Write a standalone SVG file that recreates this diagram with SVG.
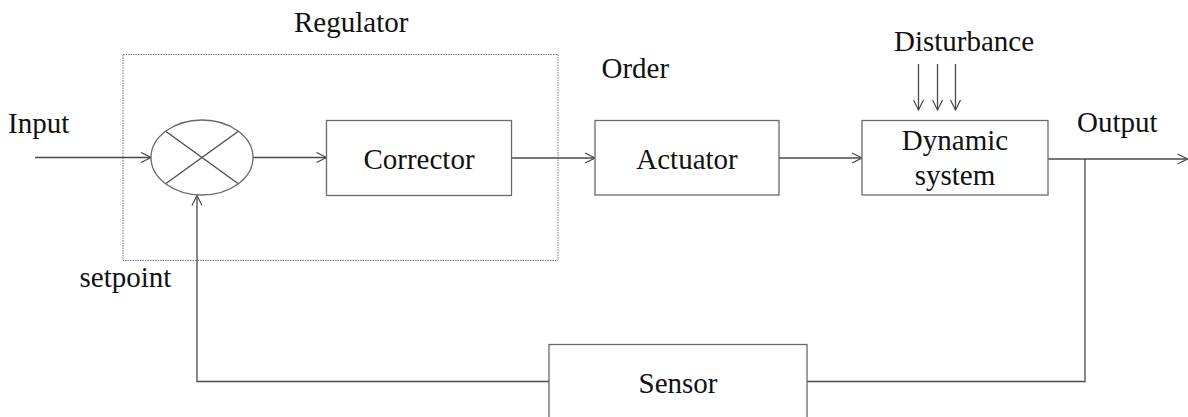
<svg xmlns="http://www.w3.org/2000/svg" width="1188" height="417" viewBox="0 0 1188 417">
  <style>
    text { font-family: "Liberation Serif", "Times New Roman", serif; font-size: 29px; fill: #111; }
    .box { fill: #fff; stroke: #6a6a6a; stroke-width: 1.3; }
    .wire { fill: none; stroke: #4a4a4a; stroke-width: 1.3; }
    .frame { fill: none; stroke: #777; stroke-width: 1; stroke-dasharray: 1.5 1; }
  </style>
  <defs>
    <marker id="arrow" viewBox="0 0 12 12" refX="11" refY="6" markerWidth="12" markerHeight="12" markerUnits="userSpaceOnUse" orient="auto">
      <path d="M1,1 L11,6 L1,11" fill="none" stroke="#4a4a4a" stroke-width="1.2"/>
    </marker>
  </defs>
  <rect width="1188" height="417" fill="#fff"/>

  <!-- regulator frame -->
  <g id="regulator">
    <rect class="frame" x="123" y="54.5" width="435" height="206"/>
    <text x="294" y="32">Regulator</text>
  </g>

  <!-- connectors -->
  <g id="connectors">
    <line class="wire" x1="35" y1="157.5" x2="151" y2="157.5" marker-end="url(#arrow)"/>
    <line class="wire" x1="253" y1="157.5" x2="326.5" y2="157.5" marker-end="url(#arrow)"/>
    <line class="wire" x1="512" y1="158" x2="595" y2="158" marker-end="url(#arrow)"/>
    <line class="wire" x1="779" y1="158" x2="862" y2="158" marker-end="url(#arrow)"/>
    <line class="wire" x1="1048" y1="159" x2="1187.5" y2="159" marker-end="url(#arrow)"/>
    <polyline class="wire" points="1085,159 1085,381.5 807,381.5"/>
    <polyline class="wire" points="549,381.5 197,381.5 197,195.5" marker-end="url(#arrow)"/>
    <line class="wire" x1="918.5" y1="64" x2="918.5" y2="110" marker-end="url(#arrow)"/>
    <line class="wire" x1="937.5" y1="64" x2="937.5" y2="110" marker-end="url(#arrow)"/>
    <line class="wire" x1="955.5" y1="64" x2="955.5" y2="110" marker-end="url(#arrow)"/>
  </g>

  <!-- summing junction -->
  <g id="comparator">
    <ellipse class="box" cx="202" cy="157.5" rx="51" ry="37.5"/>
    <line class="wire" x1="166" y1="131.5" x2="238" y2="183.5"/>
    <line class="wire" x1="166" y1="183.5" x2="238" y2="131.5"/>
  </g>

  <g id="corrector">
    <rect class="box" x="326.5" y="120.5" width="185" height="75"/>
    <text x="419" y="169" text-anchor="middle">Corrector</text>
  </g>

  <g id="actuator">
    <rect class="box" x="595" y="120.5" width="184" height="74.5"/>
    <text x="687" y="169" text-anchor="middle">Actuator</text>
  </g>

  <g id="dynamic-system">
    <rect class="box" x="862" y="120.5" width="186" height="74.5"/>
    <text x="955" y="150" text-anchor="middle">Dynamic</text>
    <text x="955" y="185" text-anchor="middle">system</text>
  </g>

  <g id="sensor">
    <rect class="box" x="549" y="344.5" width="258" height="80"/>
    <text x="678" y="393" text-anchor="middle">Sensor</text>
  </g>

  <!-- signal labels -->
  <g id="labels">
    <text x="8" y="133">Input</text>
    <text x="79.5" y="287">setpoint</text>
    <text x="601.5" y="78">Order</text>
    <text x="894" y="51">Disturbance</text>
    <text x="1077" y="132">Output</text>
  </g>
</svg>
